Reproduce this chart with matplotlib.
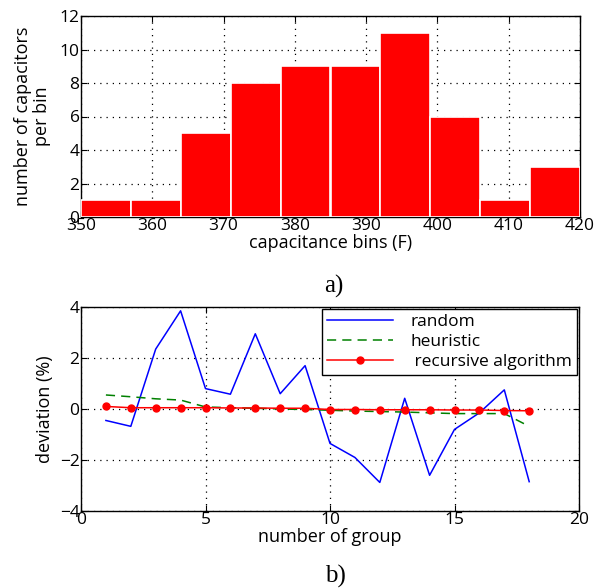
import matplotlib
matplotlib.use("Agg")
import matplotlib.pyplot as plt
import numpy as np

# histogram data (a)
bin_edges = [350, 357, 364, 371, 378, 385, 392, 399, 406, 413, 420]
bin_counts = [1, 1, 5, 8, 9, 9, 11, 6, 1, 3]

# deviation data (b)
groups = list(range(1, 19))
random_dev = [-0.45, -0.68, 2.35, 3.85, 0.8, 0.58, 2.95, 0.6, 1.7,
              -1.35, -1.9, -2.88, 0.42, -2.6, -0.8, -0.15, 0.75, -2.85]
heuristic_dev = [0.55, 0.48, 0.4, 0.35, 0.08, 0.05, 0.03, 0.0, -0.02,
                 -0.05, -0.08, -0.1, -0.12, -0.15, -0.18, -0.18, -0.18, -0.68]
recursive_dev = [0.1, 0.05, 0.05, 0.05, 0.05, 0.04, 0.04, 0.03, 0.03,
                 -0.02, -0.02, -0.03, -0.03, -0.03, -0.04, -0.04, -0.06, -0.07]

plt.rcParams['font.family'] = ['Open Sans', 'DejaVu Sans']

def style_axes(ax):
    ax.tick_params(axis='both', direction='in', top=True, right=True,
                   labelsize=12.5, length=4, pad=1)
    ax.grid(True, color='black', linestyle=(0, (1, 4)), linewidth=0.9)
    for spine in ax.spines.values():
        spine.set_linewidth(1.0)
        spine.set_color('black')

fig = plt.figure(figsize=(6.01, 5.88), dpi=100)

# top: histogram
ax1 = fig.add_axes([81/601, 1 - 217/588, 499/601, 201/588])
widths = np.diff(bin_edges)
ax1.bar(bin_edges[:-1], bin_counts, width=widths, align='edge',
        color='#ff0000', edgecolor='white', linewidth=1.2, zorder=3)
ax1.set_xlim(350, 420)
ax1.set_ylim(0, 12)
ax1.set_xticks(range(350, 421, 10))
ax1.set_yticks(range(0, 13, 2))
style_axes(ax1)
ax1.set_xlabel("capacitance bins (F)", fontsize=13, labelpad=0)
ax1.set_ylabel("number of capacitors\nper bin", fontsize=13, labelpad=6,
               linespacing=1.1)
fig.text(334/601, 1 - 286/588, "a)", family='Liberation Serif', fontsize=18,
         ha='center', va='center')

# bottom: deviation
ax2 = fig.add_axes([81/601, 1 - 511/588, 498/601, 204/588])
ax2.plot(groups, random_dev, color='blue', linewidth=1.1, label='random')
ax2.plot(groups, heuristic_dev, color='green', linestyle=(0, (6, 4)),
         linewidth=1.1, label='heuristic')
ax2.plot(groups, recursive_dev, color='red', marker='o', markersize=5,
         linewidth=1.1, label=' recursive algorithm')
ax2.set_xlim(0, 20)
ax2.set_ylim(-4, 4)
ax2.set_xticks(range(0, 21, 5))
ax2.set_yticks(range(-4, 5, 2))
style_axes(ax2)
ax2.set_xlabel("number of group", fontsize=13, labelpad=0)
ax2.set_ylabel("deviation (%)", fontsize=13, labelpad=4)
leg = ax2.legend(loc='upper right', fontsize=12.5, fancybox=False,
                 framealpha=1, edgecolor='black', borderaxespad=0.1,
                 borderpad=0.3, handlelength=3.8, handletextpad=1.0,
                 labelspacing=0.22)
leg.get_frame().set_linewidth(1.0)
fig.text(335/601, 1 - 576/588, "b)", family='Liberation Serif', fontsize=18,
         ha='center', va='center')

plt.savefig("out.png", dpi=100)
plt.close()
